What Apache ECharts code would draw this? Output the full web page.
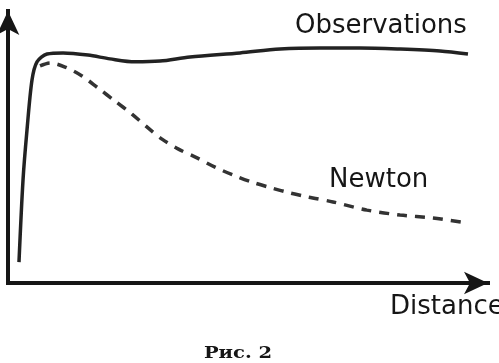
<!DOCTYPE html>
<html>
<head>
<meta charset="utf-8">
<script src="https://cdn.jsdelivr.net/npm/echarts@6/dist/echarts.min.js"></script>
<style>
html,body{margin:0;padding:0;background:#fff;}
#c{width:499px;height:363px;}
</style>
</head>
<body>
<div id="c"></div>
<script>
// Observed rotation curve (distance, velocity) in arbitrary units
var obsX = [2.29, 3.13, 3.96, 5.0, 6.04, 8.13, 11.46, 16.67, 21.25, 26.46, 31.67, 37.92, 48.33, 56.67, 65.0, 73.33, 81.67, 90.0, 95.83];
var obsY = [7.7, 37.9, 56.3, 74.6, 81.3, 84.2, 84.6, 83.8, 82.4, 81.3, 81.6, 83.1, 84.6, 86.0, 86.4, 86.4, 86.0, 85.3, 84.2];
// Newtonian prediction
var newtX = [6.67, 8.75, 11.88, 15.42, 18.75, 22.29, 25.83, 29.17, 32.08, 35.42, 39.38, 43.13, 46.88, 50.83, 55.0, 58.75, 62.5, 67.71, 74.79, 81.67, 88.54, 95.63];
var newtY = [79.8, 80.9, 79.4, 76.1, 71.7, 66.9, 62.1, 57.0, 52.9, 49.3, 46.0, 42.6, 39.7, 37.1, 34.9, 33.1, 31.6, 29.8, 26.8, 25.0, 23.9, 22.1];
var labels = {obs: 'Observations', newt: 'Newton', xName: 'Distance', caption: 'Рис. 2'};

function pairs(xs, ys){ return xs.map(function(x,i){ return [x, ys[i]]; }); }

var chart = echarts.init(document.getElementById('c'), null, {renderer:'canvas'});
var axisCommon = {
  type: 'value', min: 0, max: 100,
  axisLabel: {show:false}, axisTick: {show:false}, splitLine: {show:false},
  axisLine: {show:true, onZero:false, symbol:['none','arrow'], symbolSize:[17,24],
    lineStyle:{color:'#161616', width:4, cap:'square'}}
};
var ink = '#161616';
chart.setOption({
  animation: false,
  backgroundColor: '#fff',
  grid: {left: 8, right: 11, top: 11, bottom: 80},
  xAxis: axisCommon,
  yAxis: axisCommon,
  series: [
    {type:'line', data: pairs(obsX, obsY), smooth: 0.3, showSymbol:false,
     lineStyle:{color:'#222', width:3.5}},
    {type:'line', data: pairs(newtX, newtY), smooth: 0.3, showSymbol:false,
     lineStyle:{color:'#333', width:3.5, type:[10,8]}}
  ],
  graphic: [
    {type:'text', style:{text: labels.obs, x:295, y:26, font:'26px "DejaVu Sans"', fill:ink, verticalAlign:'middle', align:'left'}},
    {type:'text', style:{text: labels.newt, x:329, y:180, font:'26px "DejaVu Sans"', fill:ink, verticalAlign:'middle', align:'left'}},
    {type:'text', style:{text: labels.xName, x:390, y:307, font:'26px "DejaVu Sans"', fill:ink, verticalAlign:'middle', align:'left'}},
    {type:'text', x:238, y:354, scaleX:1.22, style:{text: labels.caption, x:0, y:0, font:'bold 16px "DejaVu Serif"', fill:ink, verticalAlign:'middle', align:'center'}}
  ]
});
</script>
</body>
</html>
